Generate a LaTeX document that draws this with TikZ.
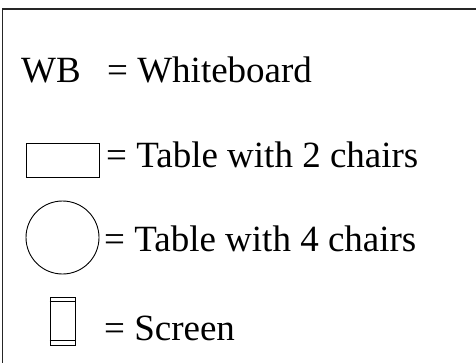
\documentclass[tikz,border=0pt]{standalone}
\usepackage{fontspec}
\setmainfont{Liberation Serif}
\begin{document}
\begin{tikzpicture}[x=1pt,y=-1pt,
  lbl/.style={inner sep=0pt,anchor=base west,font=\fontsize{37}{40}\selectfont},
  shp/.style={draw=black,line width=0.9pt,inner sep=0pt}]
\useasboundingbox (0,0) rectangle (476,362);
\clip (0,0) rectangle (476,362);
\draw[line width=1.3pt,draw=black!85] (2.5,9) rectangle (500,400);
% Whiteboard row
\node[lbl] (wb) at (21,82) {WB};
\node[lbl] (wbtxt) at (107,82) {= Whiteboard};
% Table 2 chairs
\node[shp,rectangle,minimum width=73pt,minimum height=34pt] (rect) at (62.5,160.5) {};
\node[lbl] (t2) at (106,167) {= Table with 2 chairs};
% Table 4 chairs
\node[shp,circle,minimum size=73pt] (circ) at (62.5,237.5) {};
\node[lbl] (t4) at (104,251) {= Table with 4 chairs};
% Screen
\node[shp,rectangle,minimum width=25pt,minimum height=48pt] (scrn) at (62.5,321) {};
\draw[line width=0.9pt] ([yshift=-5pt]scrn.north west) -- ([yshift=-5pt]scrn.north east);
\draw[line width=0.9pt] ([yshift=5pt]scrn.south west) -- ([yshift=5pt]scrn.south east);
\node[lbl] (scr) at (104,340) {= Screen};
\end{tikzpicture}
\end{document}
